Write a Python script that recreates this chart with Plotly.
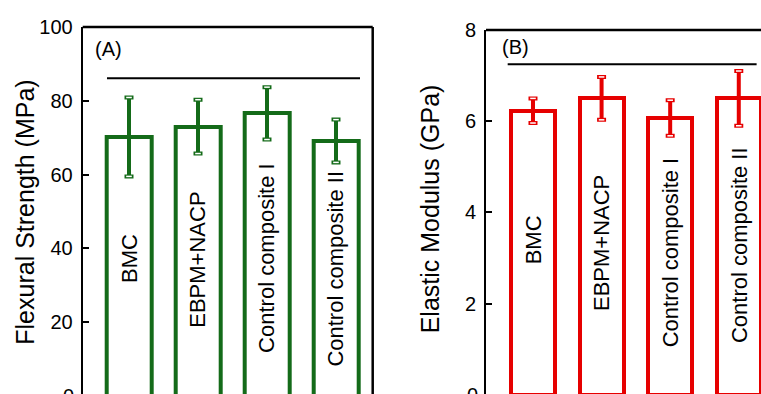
import plotly.graph_objects as go

categories = ["BMC", "EBPM+NACP", "Control composite I", "Control composite II"]

# Panel A: flexural strength (MPa)
flex_mean = [70.2, 73.0, 76.6, 69.1]
flex_err = [10.7, 7.3, 7.1, 5.8]
flex_label_y = [37.1, 36.9, 37.4, 34.5]
flex_sig_y = 86.1
flex_ticks = [20, 40, 60, 80, 100]

# Panel B: elastic modulus (GPa)
mod_mean = [6.23, 6.50, 6.07, 6.50]
mod_err = [0.27, 0.47, 0.39, 0.60]
mod_label_y = [3.41, 3.32, 3.13, 3.28]
mod_sig_y = 7.25
mod_ticks = [2, 4, 6, 8]

GREEN = "#146b19"
RED = "#e60000"
FONT = "Liberation Sans, Arial, sans-serif"

xpos = list(range(len(categories)))

fig = go.Figure()


def add_panel(xa, ya, means, errs, color, width):
    fig.add_trace(go.Bar(
        x=xpos, y=means, width=width, xaxis=xa, yaxis=ya,
        marker=dict(color="white", line=dict(color=color, width=4)),
        error_y=dict(type="data", array=errs, visible=True, color=color,
                     thickness=4, width=4.5),
        showlegend=False, hoverinfo="skip",
    ))
    ends_x = xpos + xpos
    ends_y = [m + e for m, e in zip(means, errs)] + [m - e for m, e in zip(means, errs)]
    fig.add_trace(go.Scatter(
        x=ends_x, y=ends_y, mode="markers", xaxis=xa, yaxis=ya,
        marker=dict(symbol="line-ew", size=4, color="white",
                    line=dict(color="white", width=1.5)),
        showlegend=False, hoverinfo="skip", cliponaxis=False,
    ))


add_panel("x", "y", flex_mean, flex_err, GREEN, 0.65)
add_panel("x2", "y2", mod_mean, mod_err, RED, 0.64)

W, H = 761, 394

tickfont = dict(family=FONT, size=20, color="black")
fig.update_layout(
    width=W, height=H,
    margin=dict(l=0, r=0, t=0, b=0),
    paper_bgcolor="white", plot_bgcolor="white",
    bargap=0,
    xaxis=dict(domain=[82.7 / W, 372.7 / W], range=[-0.671, 3.532],
               showticklabels=False, showgrid=False, zeroline=False,
               showline=False, ticks=""),
    yaxis=dict(domain=[0, 1 - 16.5 / H], range=[0.5, 100],
               tickvals=flex_ticks, ticks="inside", ticklen=6, tickwidth=2,
               tickcolor="black", showline=True, linecolor="black", linewidth=2,
               showgrid=False, zeroline=False, tickfont=tickfont,
               ticklabelstandoff=4),
    xaxis2=dict(domain=[486 / W, 1], range=[-0.685, 3.324], anchor="y2",
                showticklabels=False, showgrid=False, zeroline=False,
                showline=False, ticks=""),
    yaxis2=dict(domain=[0, 1 - 19.5 / H], range=[0.02, 8], anchor="x2",
                tickvals=mod_ticks, ticks="inside", ticklen=6, tickwidth=2,
                tickcolor="black", showline=True, linecolor="black", linewidth=2,
                showgrid=False, zeroline=False, tickfont=tickfont,
                ticklabelstandoff=4),
)

# frame lines (top and right) without a bottom line
shapes = [
    dict(type="line", xref="x domain", yref="y domain", x0=0, x1=1, y0=1, y1=1,
         line=dict(color="black", width=2.5)),
    dict(type="line", xref="x domain", yref="y domain", x0=1, x1=1, y0=0, y1=1,
         line=dict(color="black", width=2.5)),
    dict(type="line", xref="x2 domain", yref="y2 domain", x0=0, x1=1, y0=1, y1=1,
         line=dict(color="black", width=2.5)),
    # significance lines
    dict(type="line", xref="x", yref="y", x0=-0.319, x1=3.348, y0=flex_sig_y, y1=flex_sig_y,
         line=dict(color="black", width=2)),
    dict(type="line", xref="x2", yref="y2", x0=-0.369, x1=3.26, y0=mod_sig_y, y1=mod_sig_y,
         line=dict(color="black", width=2)),
]
fig.update_layout(shapes=shapes)

annotations = []
catfont = dict(family=FONT, size=22, color="black")
for i, c in enumerate(categories):
    annotations.append(dict(x=i, y=flex_label_y[i], xref="x", yref="y", text=c,
                            textangle=-90, showarrow=False, font=catfont,
                            xanchor="center", yanchor="middle"))
    annotations.append(dict(x=i, y=mod_label_y[i], xref="x2", yref="y2", text=c,
                            textangle=-90, showarrow=False, font=catfont,
                            xanchor="center", yanchor="middle"))

# panel labels
annotations.append(dict(x=108.5 / W, y=1 - 39 / H, xref="paper", yref="paper", text="(A)",
                        showarrow=False, font=dict(family=FONT, size=20, color="black"),
                        xanchor="center", yanchor="middle"))
annotations.append(dict(x=515 / W, y=1 - 36.7 / H, xref="paper", yref="paper", text="(B)",
                        showarrow=False, font=dict(family=FONT, size=20, color="black"),
                        xanchor="center", yanchor="middle"))

# axis titles
annotations.append(dict(x=25 / W, y=1 - 207.5 / H, xref="paper", yref="paper",
                        text="Flexural Strength (MPa)", textangle=-90, showarrow=False,
                        font=dict(family=FONT, size=25, color="black"),
                        xanchor="center", yanchor="middle"))
annotations.append(dict(x=430 / W, y=1 - 204 / H, xref="paper", yref="paper",
                        text="Elastic Modulus (GPa)", textangle=-90, showarrow=False,
                        font=dict(family=FONT, size=25, color="black"),
                        xanchor="center", yanchor="middle"))

# zero tick labels, partly cut by the bottom edge as in the reference
annotations.append(dict(x=68.5 / W, y=-1.9 / H, xref="paper", yref="paper", text="0",
                        showarrow=False, font=tickfont, xanchor="center", yanchor="middle"))
annotations.append(dict(x=472 / W, y=-0.8 / H, xref="paper", yref="paper", text="0",
                        showarrow=False, font=tickfont, xanchor="center", yanchor="middle"))

fig.update_layout(annotations=annotations)

fig.write_html("out.html")
